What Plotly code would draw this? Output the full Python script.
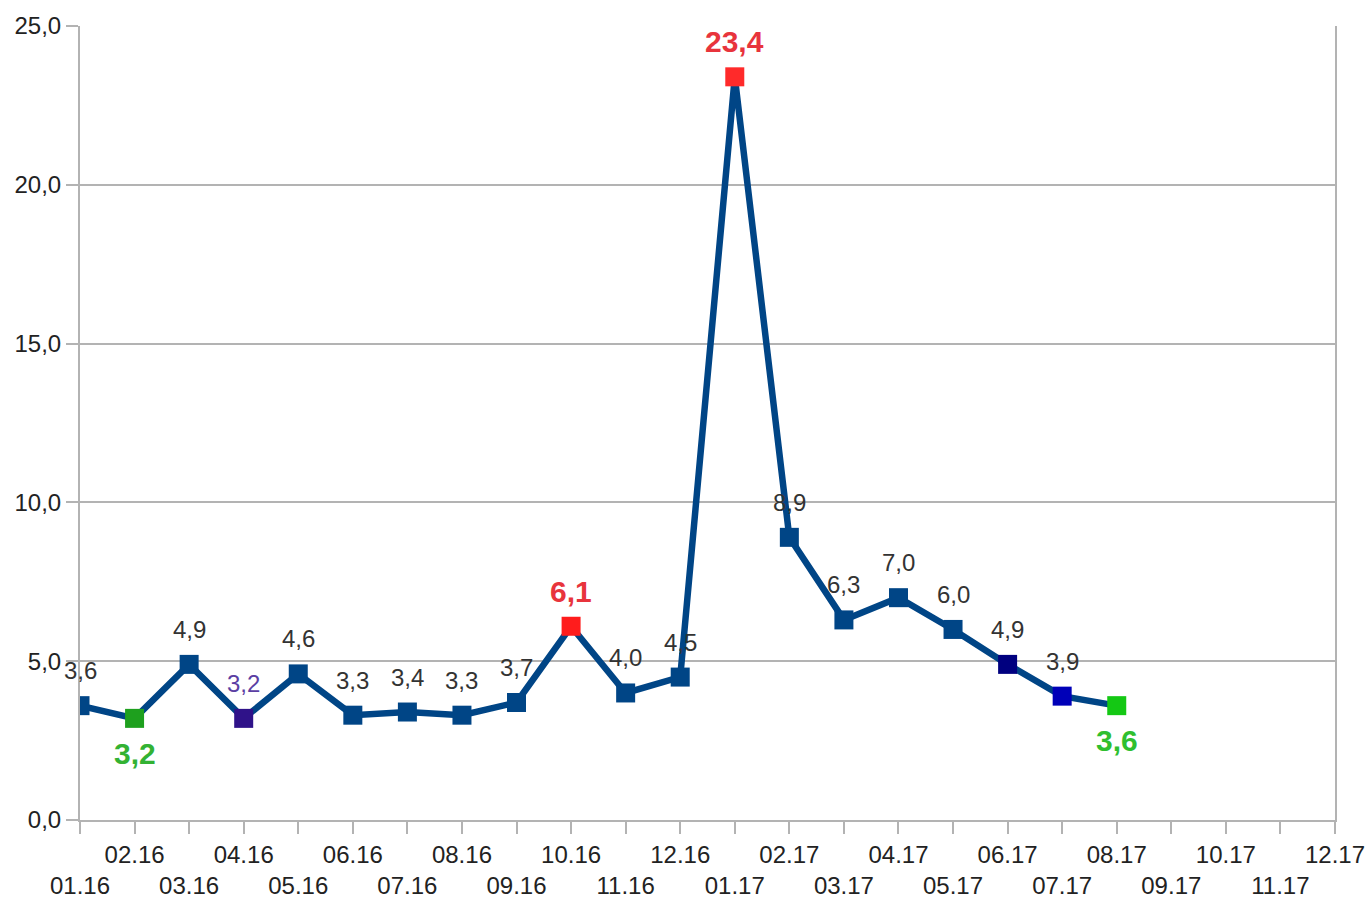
import plotly.graph_objects as go

categories = ["01.16", "02.16", "03.16", "04.16", "05.16", "06.16", "07.16", "08.16",
              "09.16", "10.16", "11.16", "12.16", "01.17", "02.17", "03.17", "04.17",
              "05.17", "06.17", "07.17", "08.17", "09.17", "10.17", "11.17", "12.17"]
values = [3.6, 3.2, 4.9, 3.2, 4.6, 3.3, 3.4, 3.3, 3.7, 6.1, 4.0, 4.5,
          23.4, 8.9, 6.3, 7.0, 6.0, 4.9, 3.9, 3.6]
y_ticks = [0, 5, 10, 15, 20, 25]
y_tick_labels = ["0,0", "5,0", "10,0", "15,0", "20,0", "25,0"]

BLUE = "#004586"
marker_colors = [BLUE] * len(values)
marker_colors[1] = "#1ea01e"
marker_colors[3] = "#2f1289"
marker_colors[9] = "#ff1c1c"
marker_colors[12] = "#ff2a2a"
marker_colors[17] = "#00007f"
marker_colors[18] = "#0000b8"
marker_colors[19] = "#14c814"

# label styles: (color, size, bold, position)
label_style = [("#333333", 24, False, "top")] * len(values)
label_style[1] = ("#33b233", 30, True, "bottom")
label_style[3] = ("#5b3ea3", 24, False, "top")
label_style[9] = ("#e8343c", 30, True, "top")
label_style[12] = ("#e8343c", 30, True, "top")
label_style[19] = ("#2fbf2f", 30, True, "bottom")

FONT = "Liberation Sans Narrow, Liberation Sans, Arial, sans-serif"
GRID = "#b3b3b3"

x_idx = list(range(len(values)))
cat_idx = list(range(len(categories)))

fig = go.Figure()
fig.add_trace(go.Scatter(x=x_idx, y=values, mode="lines",
                         line=dict(color=BLUE, width=6.5), hoverinfo="skip"))
fig.add_trace(go.Scatter(x=x_idx, y=values, mode="markers",
                         marker=dict(symbol="square", size=19, color=marker_colors,
                                     line=dict(width=0))))

for i, v, (col, sz, bold, pos) in zip(x_idx, values, label_style):
    txt = f"{v:.1f}".replace(".", ",")
    if bold:
        txt = f"<b>{txt}</b>"
    fig.add_annotation(x=i, y=v, xref="x", yref="y", text=txt, showarrow=False,
                       yshift=35 if pos == "top" else -35,
                       font=dict(family=FONT, size=sz, color=col))

tick_text = [c if i % 2 == 1 else "<br>" + c for i, c in enumerate(categories)]

fig.update_layout(
    width=1368, height=899,
    margin=dict(l=80, r=33, t=26, b=79),
    plot_bgcolor="white", paper_bgcolor="white",
    showlegend=False,
    font=dict(family=FONT, size=24, color="#222222"),
    xaxis=dict(range=[0, len(categories) - 1],
               tickvals=cat_idx, ticktext=tick_text, tickangle=0,
               automargin=False, ticklabeloverflow="allow",
               showgrid=False, showline=True, linecolor=GRID, linewidth=2,
               ticks="outside", ticklen=12, tickcolor=GRID, tickwidth=2,
               zeroline=False, tickfont=dict(size=24)),
    yaxis=dict(range=[0, 25], tickvals=y_ticks, ticktext=y_tick_labels,
               automargin=False,
               showgrid=True, gridcolor=GRID, gridwidth=2,
               showline=True, linecolor=GRID, linewidth=2, mirror=True,
               ticks="outside", ticklen=12, tickcolor=GRID, tickwidth=2,
               zeroline=False, tickfont=dict(size=24)),
)

fig.write_html("out.html",
               config={"displayModeBar": False},
               post_script="document.body.style.margin='0';document.body.style.overflow='hidden';")
